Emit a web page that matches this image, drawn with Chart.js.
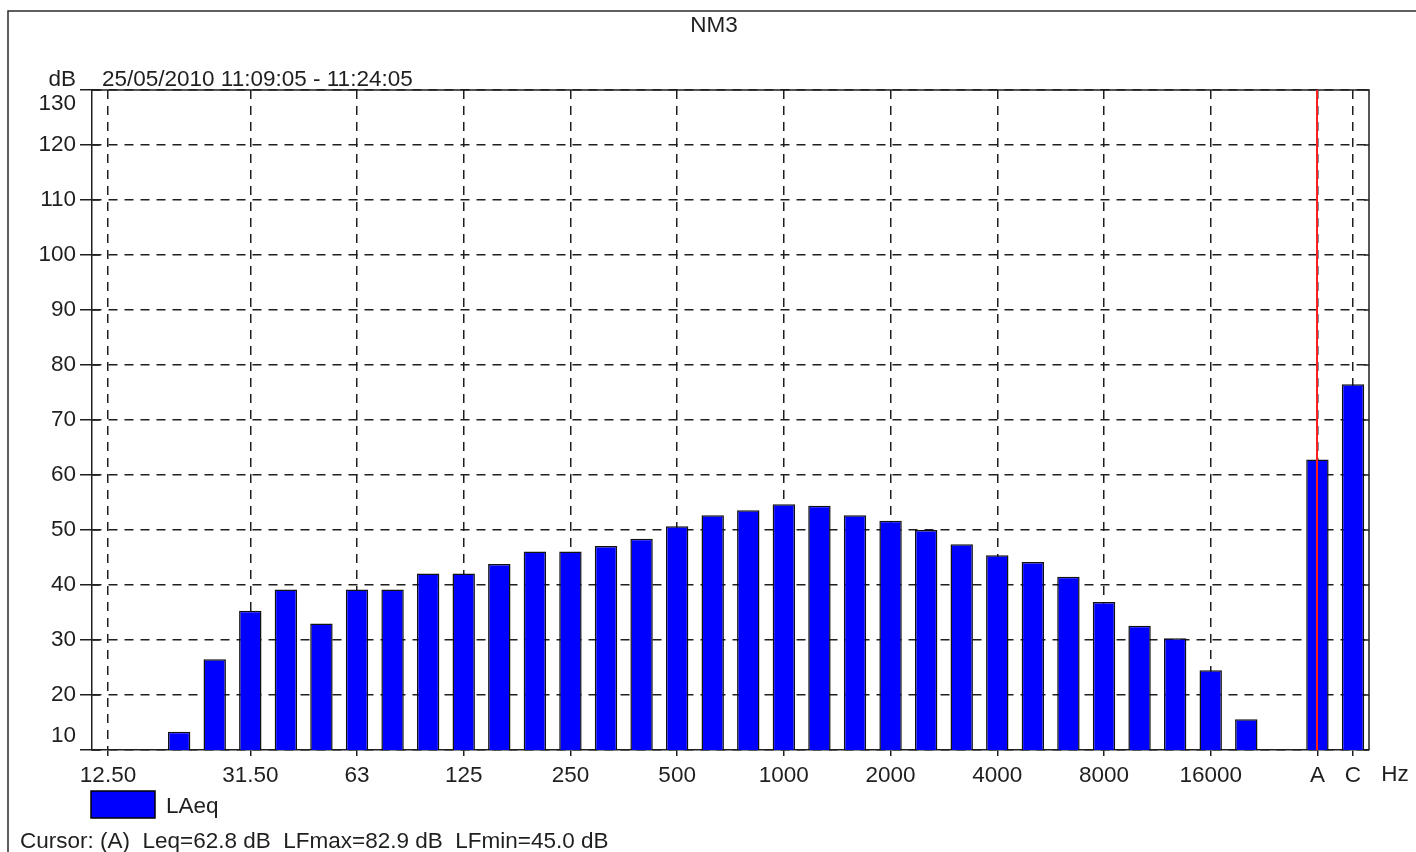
<!DOCTYPE html>
<html>
<head>
<meta charset="utf-8">
<script src="https://cdn.jsdelivr.net/npm/chart.js@4.4.1/dist/chart.umd.min.js"></script>
<style>
  html, body { margin: 0; padding: 0; background: #fff; overflow: hidden; }
  #wrap { width: 1416px; height: 852px; position: relative; }
</style>
</head>
<body>
<div id="wrap"><canvas id="c" width="1416" height="852"></canvas></div>
<script>
// 1/3-octave bands, an empty slot, then the A and C weighted totals
const bands = ['12.50', '16', '20', '25', '31.50', '40', '50', '63', '80', '100',
  '125', '160', '200', '250', '315', '400', '500', '630', '800', '1000',
  '1250', '1600', '2000', '2500', '3150', '4000', '5000', '6300', '8000', '10000',
  '12500', '16000', '20000', '', 'A', 'C'];

// LAeq per band (dB)
const laeq = [null, null, 13.3, 26.5, 35.3, 39.2, 33.0, 39.2, 39.2, 42.1,
  42.1, 43.8, 46.1, 46.1, 47.1, 48.4, 50.7, 52.7, 53.6, 54.7,
  54.4, 52.7, 51.7, 50.0, 47.4, 45.4, 44.2, 41.5, 36.9, 32.6,
  30.3, 24.5, 15.6, null, 62.8, 76.5];

// bands that carry a label on the frequency axis
const tickLabels = ['12.50', '31.50', '63', '125', '250', '500', '1000', '2000',
  '4000', '8000', '16000', 'A', 'C'];

// level axis range
const yMin = 10;
const yMax = 130;
const yStep = 10;

const chartTitle = 'NM3';
const period = '25/05/2010 11:09:05 - 11:24:05';
const seriesName = 'LAeq';
const cursorBand = 'A';
const lfMax = 82.9;
const lfMin = 45.0;

const FONT = '"Liberation Sans", Arial, sans-serif';
const FONT_SIZE = 22.5;
const INK = '#1f1f1f';
const BAR_BLUE = '#0000ff';

const points = laeq
  .map((v, i) => (v === null ? null : { x: i, y: v }))
  .filter(Boolean);

const fmt = v => v.toFixed(1);

// frame, inner tick marks, cursor line and the surrounding captions
const decorations = {
  id: 'decorations',
  beforeDraw(chart) {
    const ctx = chart.ctx;
    ctx.save();
    ctx.fillStyle = '#fff';
    ctx.fillRect(0, 0, chart.width, chart.height);
    ctx.strokeStyle = '#2b2b2b';
    ctx.lineWidth = 1.5;
    ctx.beginPath();
    ctx.moveTo(8, chart.height + 2);
    ctx.lineTo(8, 11);
    ctx.lineTo(chart.width + 2, 11);
    ctx.stroke();
    ctx.restore();
  },
  afterDatasetsDraw(chart) {
    const ctx = chart.ctx;
    const a = chart.chartArea;
    const ys = chart.scales.y;
    const xs = chart.scales.x;
    ctx.save();
    ctx.strokeStyle = INK;
    ctx.lineWidth = 1.5;
    // top and right sides of the plot frame
    ctx.beginPath();
    ctx.moveTo(a.left, a.top);
    ctx.lineTo(a.right, a.top);
    ctx.lineTo(a.right, a.bottom);
    ctx.stroke();
    // short solid marks on the inside of both vertical borders
    ctx.beginPath();
    ys.ticks.forEach(t => {
      const py = ys.getPixelForValue(t.value);
      ctx.moveTo(a.left, py);
      ctx.lineTo(a.left + 8, py);
      ctx.moveTo(a.right - 5, py);
      ctx.lineTo(a.right, py);
    });
    ctx.stroke();
    // cursor on the A-weighted total
    const cx = Math.round(xs.getPixelForValue(bands.indexOf(cursorBand)));
    ctx.strokeStyle = '#ff1e1e';
    ctx.lineWidth = 2;
    ctx.beginPath();
    ctx.moveTo(cx, a.top);
    ctx.lineTo(cx, a.bottom);
    ctx.stroke();
    ctx.restore();
  },
  afterDraw(chart) {
    const ctx = chart.ctx;
    const ds = chart.data.datasets[0];
    ctx.save();
    ctx.fillStyle = INK;
    ctx.font = FONT_SIZE + 'px ' + FONT;
    ctx.textBaseline = 'alphabetic';

    ctx.textAlign = 'center';
    ctx.fillText(chartTitle, 714, 32);

    ctx.textAlign = 'right';
    ctx.fillText('dB', 76, 86);
    ctx.textAlign = 'left';
    ctx.fillText(period, 102, 86);

    ctx.textAlign = 'center';
    ctx.fillText('Hz', 1395, 781);

    // legend entry
    ctx.fillStyle = ds.backgroundColor;
    ctx.fillRect(91, 791, 64, 27);
    ctx.strokeStyle = '#000';
    ctx.lineWidth = 1.5;
    ctx.strokeRect(91, 791, 64, 27);
    ctx.fillStyle = INK;
    ctx.textAlign = 'left';
    ctx.fillText(ds.label, 166, 813);

    // cursor readout
    const cv = laeq[bands.indexOf(cursorBand)];
    ctx.fillText('Cursor: (' + cursorBand + ')  Leq=' + fmt(cv) + ' dB  LFmax=' + fmt(lfMax) +
      ' dB  LFmin=' + fmt(lfMin) + ' dB', 20, 848);
    ctx.restore();
  }
};

new Chart(document.getElementById('c'), {
  type: 'bar',
  data: {
    datasets: [{
      label: seriesName,
      data: points,
      backgroundColor: BAR_BLUE,
      borderColor: '#111',
      borderWidth: 1.5,
      borderSkipped: false,
      barPercentage: 0.63,
      categoryPercentage: 1.0
    }]
  },
  options: {
    responsive: false,
    devicePixelRatio: 1,
    animation: false,
    events: [],
    layout: { padding: { left: 12, right: 47, top: 90, bottom: 52 } },
    plugins: {
      legend: { display: false },
      title: { display: false },
      tooltip: { enabled: false }
    },
    scales: {
      x: {
        type: 'linear',
        offset: false,
        min: -0.45,
        max: bands.length - 1 + 0.45,
        afterBuildTicks(scale) {
          scale.ticks = tickLabels.map(l => ({ value: bands.indexOf(l) }));
        },
        afterFit(scale) { scale.height = 50; },
        ticks: {
          autoSkip: false,
          maxRotation: 0,
          padding: 6,
          color: INK,
          font: { family: FONT, size: FONT_SIZE },
          callback: v => bands[v]
        },
        grid: {
          offset: false,
          color: INK,
          lineWidth: 1.5,
          tickLength: 6,
          tickColor: INK,
          tickWidth: 1.5,
          tickBorderDash: []
        },
        border: { display: true, color: INK, width: 1.5, dash: [9, 7] }
      },
      y: {
        type: 'linear',
        min: yMin,
        max: yMax,
        afterFit(scale) { scale.width = 80; },
        ticks: {
          stepSize: yStep,
          autoSkip: false,
          padding: 4,
          color: INK,
          font: { family: FONT, size: FONT_SIZE, lineHeight: 1.25 },
          // end labels sit inside the range, next to their line
          callback(v, i, ticks) {
            const s = String(v);
            if (i === 0) return [s, ''];
            if (i === ticks.length - 1) return ['', s];
            return s;
          }
        },
        grid: {
          color: INK,
          lineWidth: 1.5,
          tickLength: 12,
          tickColor: INK,
          tickWidth: 1.5,
          tickBorderDash: []
        },
        border: { display: true, color: INK, width: 1.5, dash: [9, 7] }
      }
    }
  },
  plugins: [decorations]
});
</script>
</body>
</html>
